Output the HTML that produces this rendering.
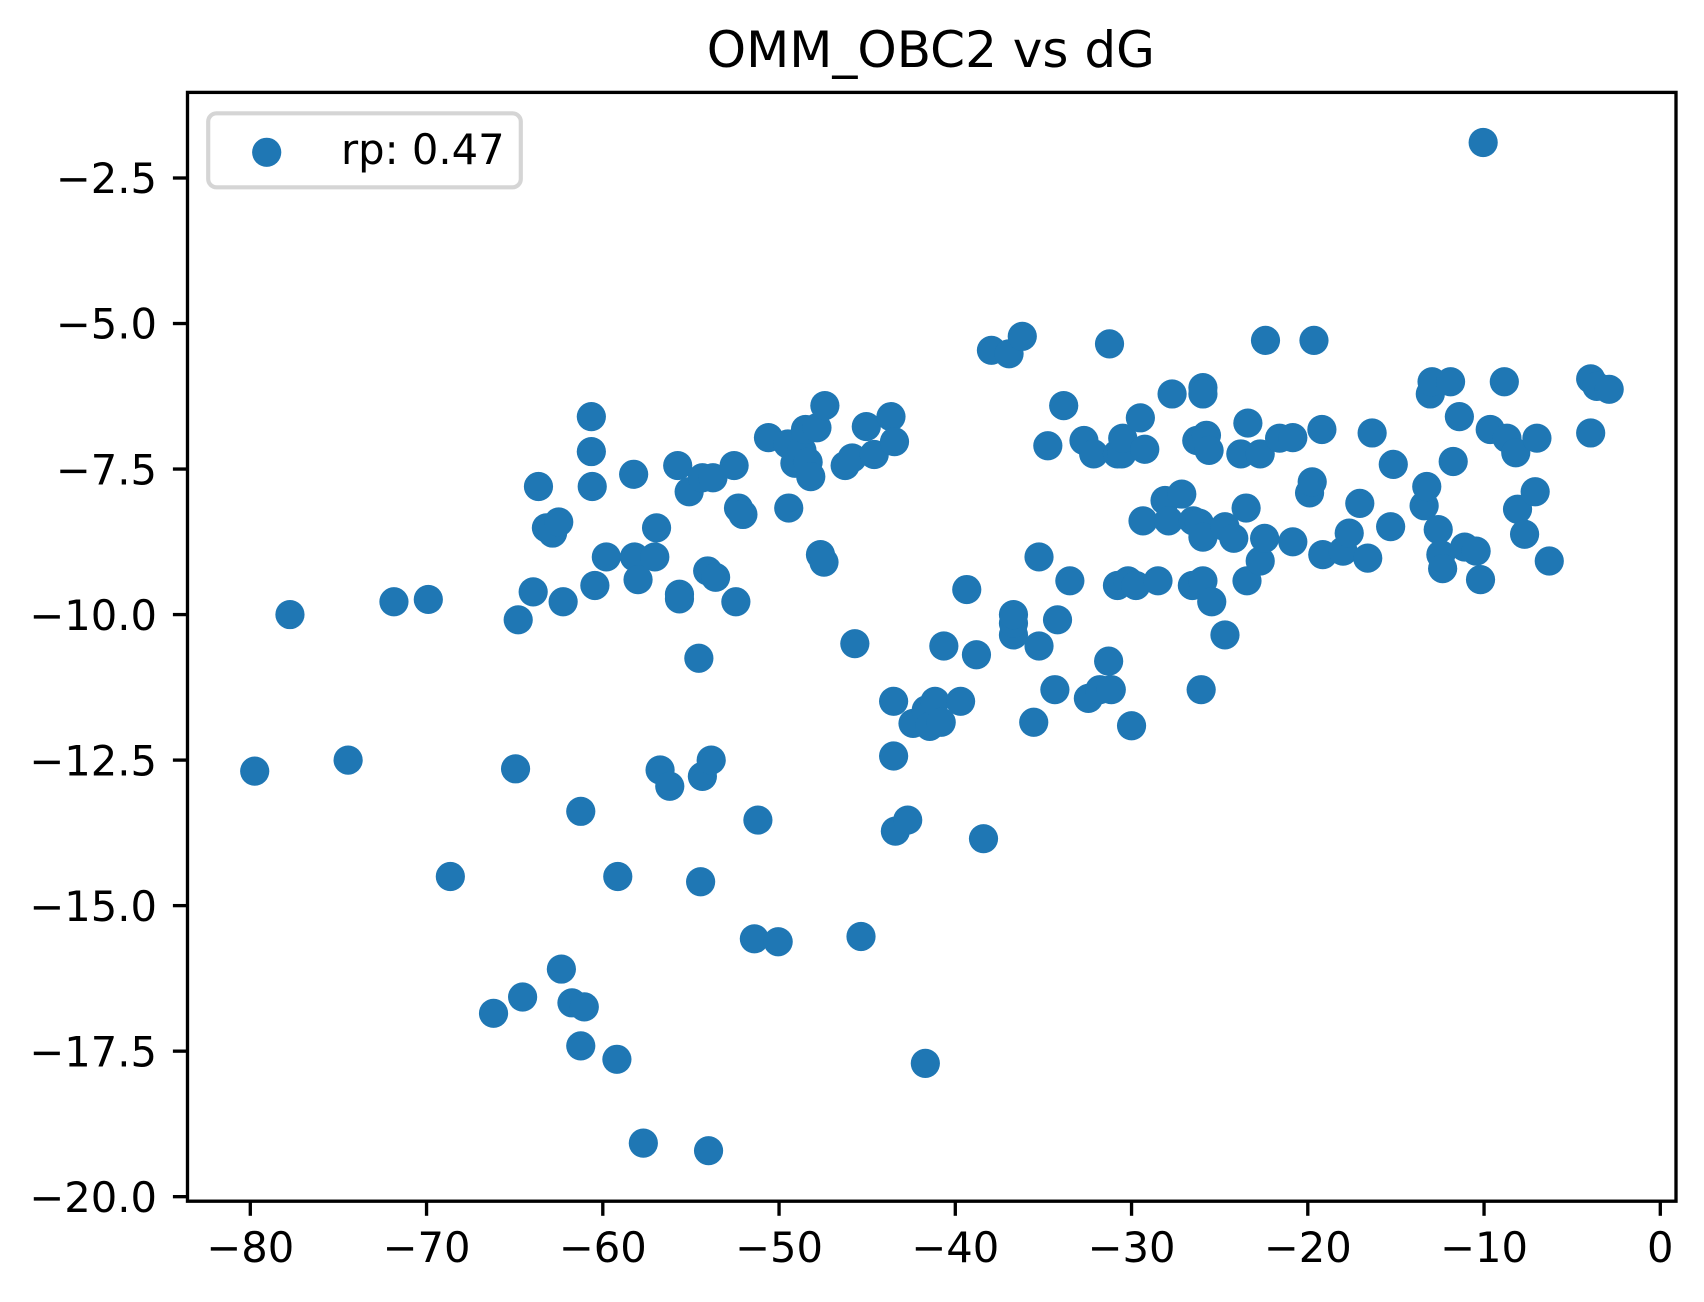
<!DOCTYPE html>
<html lang="en">
<head>
<meta charset="utf-8">
<title>OMM_OBC2 vs dG</title>
<style>
html,body{margin:0;padding:0;background:#fff;width:1704px;height:1302px;overflow:hidden}
svg{display:block}
text{font-family:"DejaVu Sans","Liberation Sans",sans-serif;fill:#000}
</style>
</head>
<body>
<svg id="chart" xmlns="http://www.w3.org/2000/svg" width="1704" height="1302" viewBox="0 0 1704 1302">
  <rect x="0" y="0" width="1704" height="1302" fill="#fff"/>
  <text x="930.8" y="67" font-size="50" text-anchor="middle">OMM_OBC2 vs dG</text>
  <g id="points"></g>
  <g id="xticks"></g>
  <g id="yticks"></g>
  <rect x="187.5" y="92.4" width="1488.5" height="1108.8" fill="none" stroke="#000" stroke-width="3.33"/>
  <g>
    <rect x="208.2" y="113.3" width="312.6" height="74" rx="8.3" ry="8.3" fill="#fff" fill-opacity="0.8" stroke="#d5d5d5" stroke-width="4.17"/>
    <circle cx="266.7" cy="152.3" r="14.6" fill="#1f77b4"/>
    <text x="341" y="164" font-size="41.67">rp: 0.47</text>
  </g>
</svg>
<script>
const xValues = [-10.05,-79.75,-77.75,-74.45,-71.85,-69.9,-68.65,-66.2,-64.95,-64.55,-64.8,-63.95,-63.65,-63.2,-62.85,-62.5,-62.25,-62.35,-61.75,-61.05,-61.25,-61.25,-60.65,-60.65,-60.6,-60.45,-59.8,-59.2,-59.15,-58.25,-58.2,-58.0,-57.7,-57.05,-56.95,-56.75,-56.2,-55.75,-55.65,-55.65,-55.1,-54.55,-54.45,-54.35,-54.35,-54.05,-54.0,-53.85,-53.75,-53.6,-52.55,-52.45,-52.3,-52.05,-51.4,-51.2,-50.6,-50.05,-49.5,-49.45,-49.1,-48.7,-48.5,-48.35,-48.2,-47.85,-47.65,-47.45,-47.4,-46.25,-45.85,-45.7,-45.35,-45.05,-44.6,-43.65,-43.5,-43.5,-43.45,-43.4,-42.7,-42.4,-41.7,-41.65,-41.45,-41.15,-40.8,-40.65,-39.7,-39.35,-38.8,-38.4,-37.95,-36.95,-36.7,-36.7,-36.7,-36.2,-35.55,-35.25,-35.25,-34.75,-34.35,-34.2,-33.85,-33.5,-32.7,-32.45,-32.15,-31.8,-31.3,-31.25,-31.15,-30.8,-30.8,-30.55,-30.5,-30.2,-30.0,-29.75,-29.5,-29.35,-29.25,-28.5,-28.1,-27.9,-27.7,-27.15,-26.55,-26.5,-26.3,-26.15,-26.05,-25.95,-25.95,-25.95,-25.95,-25.75,-25.6,-25.45,-24.7,-24.7,-24.2,-23.8,-23.5,-23.45,-23.4,-22.7,-22.7,-22.45,-22.4,-21.6,-20.85,-20.85,-19.9,-19.75,-19.65,-19.2,-19.15,-18.0,-17.65,-17.05,-16.6,-16.35,-15.3,-15.15,-13.4,-13.25,-13.05,-12.95,-12.6,-12.45,-12.35,-11.9,-11.75,-11.4,-11.1,-10.45,-10.2,-9.65,-8.85,-8.7,-8.2,-8.1,-7.7,-7.1,-7.0,-6.3,-3.95,-3.95,-3.6,-2.9];
const yValues = [-1.89,-12.69,-10.0,-12.5,-9.78,-9.74,-14.5,-16.85,-12.65,-16.57,-10.09,-9.61,-7.8,-8.51,-8.6,-8.41,-9.78,-16.09,-16.67,-16.74,-13.38,-17.41,-6.6,-7.2,-7.8,-9.5,-9.01,-17.64,-14.5,-7.59,-9.01,-9.4,-19.08,-9.01,-8.51,-12.67,-12.95,-7.44,-9.65,-9.73,-7.89,-10.75,-14.59,-7.65,-12.78,-9.25,-19.21,-12.5,-7.65,-9.36,-7.44,-9.78,-8.17,-8.28,-15.57,-13.53,-6.96,-15.62,-7.07,-8.17,-7.4,-7.18,-6.82,-7.38,-7.63,-6.79,-8.97,-9.1,-6.41,-7.44,-7.31,-10.5,-15.53,-6.77,-7.25,-6.6,-11.49,-12.43,-7.03,-13.72,-13.53,-11.87,-17.71,-11.64,-11.92,-11.49,-11.85,-10.54,-11.49,-9.57,-10.69,-13.85,-5.46,-5.52,-10.35,-10.15,-10.0,-5.22,-11.85,-10.54,-9.01,-7.1,-11.29,-10.09,-6.41,-9.42,-7.01,-11.44,-7.24,-11.29,-10.8,-5.35,-11.29,-7.24,-9.5,-7.24,-6.97,-9.42,-11.91,-9.5,-6.62,-8.39,-7.16,-9.42,-8.04,-8.39,-6.21,-7.93,-9.5,-8.39,-7.01,-8.43,-11.29,-6.1,-6.21,-9.42,-8.67,-6.92,-7.18,-9.78,-10.35,-8.49,-8.69,-7.24,-8.17,-9.42,-6.71,-7.24,-9.08,-8.69,-5.29,-6.97,-8.75,-6.96,-7.91,-7.72,-5.29,-6.82,-8.97,-8.91,-8.6,-8.09,-9.03,-6.88,-8.49,-7.42,-8.13,-7.8,-6.21,-6.0,-8.54,-8.97,-9.21,-6.0,-7.37,-6.6,-8.84,-8.91,-9.4,-6.82,-6.0,-6.97,-7.22,-8.19,-8.62,-7.89,-6.97,-9.08,-5.95,-6.88,-6.08,-6.13];
const xTickValues = [-80,-70,-60,-50,-40,-30,-20,-10,0];
const yTickValues = [-2.5,-5,-7.5,-10,-12.5,-15,-17.5,-20];

const SVG_NS = 'http://www.w3.org/2000/svg';
function xScale(v){ return 1660.3 + v * 17.625; }
function yScale(v){ return 178 + (-2.5 - v) * 58.21; }
function xLabel(v){ return v < 0 ? '\u2212' + Math.abs(v) : String(v); }
function yLabel(v){ return '\u2212' + Math.abs(v).toFixed(1); }

const pointsGroup = document.getElementById('points');
xValues.forEach(function (xv, i) {
  const c = document.createElementNS(SVG_NS, 'circle');
  
  
  c.setAttribute('cx', xScale(xv));
  c.setAttribute('cy', yScale(yValues[i]));
  c.setAttribute('r', 14.6);
  c.setAttribute('fill', '#1f77b4');
  pointsGroup.appendChild(c);
});

const xGroup = document.getElementById('xticks');
xTickValues.forEach(function (v) {
  const px = xScale(v);
  const l = document.createElementNS(SVG_NS, 'line');
  
  
  l.setAttribute('x1', px);
  l.setAttribute('x2', px);
  l.setAttribute('y1', 1201.2);
  l.setAttribute('y2', 1215.8);
  l.setAttribute('stroke', '#000');
  l.setAttribute('stroke-width', 3.33);
  xGroup.appendChild(l);
  const t = document.createElementNS(SVG_NS, 'text');
  
  
  t.setAttribute('x', px);
  t.setAttribute('y', 1262);
  t.setAttribute('font-size', 41.67);
  t.setAttribute('text-anchor', 'middle');
  t.textContent = xLabel(v);
  xGroup.appendChild(t);
});

const yGroup = document.getElementById('yticks');
yTickValues.forEach(function (v) {
  const py = yScale(v);
  const l = document.createElementNS(SVG_NS, 'line');
  
  
  l.setAttribute('x1', 172.9);
  l.setAttribute('x2', 187.5);
  l.setAttribute('y1', py);
  l.setAttribute('y2', py);
  l.setAttribute('stroke', '#000');
  l.setAttribute('stroke-width', 3.33);
  yGroup.appendChild(l);
  const t = document.createElementNS(SVG_NS, 'text');
  
  
  t.setAttribute('x', 157);
  t.setAttribute('y', py + 15.2);
  t.setAttribute('font-size', 41.67);
  t.setAttribute('text-anchor', 'end');
  t.textContent = yLabel(v);
  yGroup.appendChild(t);
});
</script>
</body>
</html>
